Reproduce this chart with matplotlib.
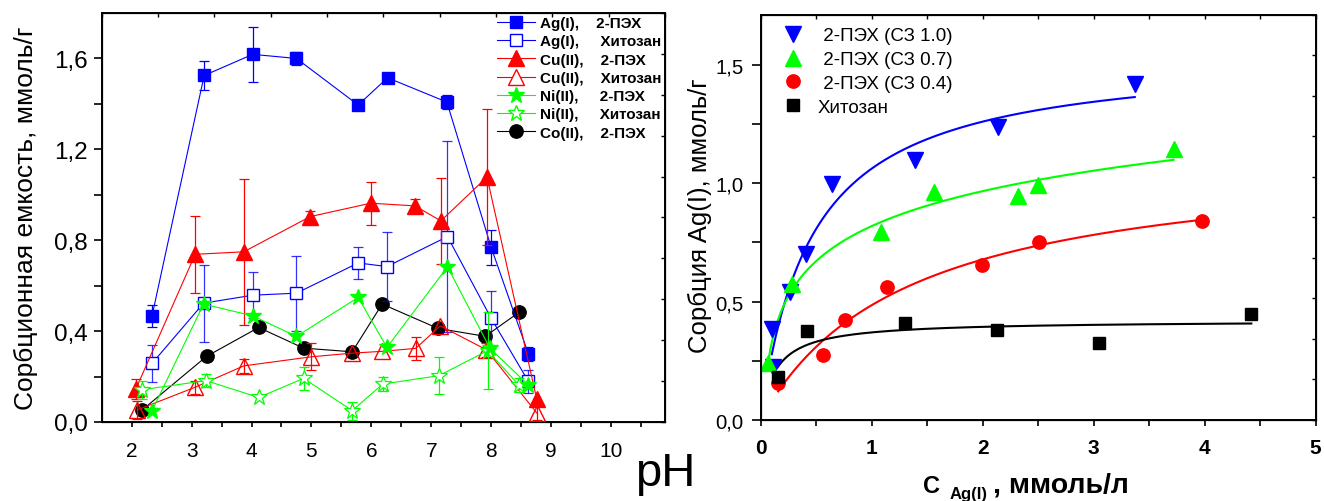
import numpy as np
import matplotlib
matplotlib.use("Agg")
import matplotlib.pyplot as plt
from matplotlib.lines import Line2D

plt.rcParams['font.family'] = ['Liberation Sans', 'DejaVu Sans']

# --- сорбция ионов металлов от pH ---
ph_ag = [2.34, 3.21, 4.02, 4.75, 5.78, 6.27, 7.26, 8.00, 8.62]
q_ag = [0.467, 1.525, 1.618, 1.600, 1.395, 1.515, 1.408, 0.768, 0.300]
e_ag = [0.05, 0.065, 0.12, 0.03, np.nan, np.nan, 0.03, 0.075, 0.03]

ph_ag_ch = [2.34, 3.20, 4.02, 4.75, 5.78, 6.26, 7.27, 8.00, 8.62]
q_ag_ch = [0.258, 0.523, 0.558, 0.567, 0.700, 0.684, 0.816, 0.456, 0.179]
e_ag_ch = [0.08, 0.17, 0.10, 0.165, 0.07, 0.15, 0.42, 0.12, 0.05]

ph_cu = [2.07, 3.06, 3.87, 4.98, 5.99, 6.73, 7.16, 7.93, 8.76]
q_cu = [0.145, 0.738, 0.749, 0.904, 0.963, 0.951, 0.885, 1.078, 0.100]
e_cu = [0.045, 0.17, 0.32, 0.025, 0.095, 0.03, 0.19, 0.30, np.nan]

ph_cu_ch = [2.09, 3.05, 3.87, 5.00, 5.68, 6.18, 6.74, 7.15, 7.92, 8.76]
q_cu_ch = [0.053, 0.152, 0.247, 0.287, 0.303, 0.311, 0.324, 0.423, 0.318, 0.040]
e_cu_ch = [0.04, 0.03, 0.03, 0.06, np.nan, np.nan, 0.05, np.nan, 0.03, 0.03]

ph_ni = [2.34, 3.20, 4.02, 4.75, 5.78, 6.26, 7.27, 7.98, 8.62]
q_ni = [0.050, 0.519, 0.467, 0.377, 0.548, 0.328, 0.683, 0.324, 0.163]

ph_ni_ch = [2.17, 3.24, 4.12, 4.87, 5.68, 6.19, 7.13, 7.94, 8.46]
q_ni_ch = [0.142, 0.182, 0.108, 0.192, 0.050, 0.167, 0.204, 0.314, 0.163]
e_ni_ch = [0.04, 0.03, np.nan, 0.05, 0.04, 0.03, 0.08, 0.17, 0.03]

ph_co = [2.18, 3.25, 4.12, 4.87, 5.68, 6.18, 7.11, 7.90, 8.46]
q_co = [0.054, 0.289, 0.416, 0.325, 0.309, 0.519, 0.412, 0.377, 0.482]

# --- изотермы сорбции Ag(I) ---
c_10 = [0.11, 0.10, 0.265, 0.41, 0.645, 1.39, 2.14, 3.37]
a_10 = [0.225, 0.384, 0.539, 0.700, 0.997, 1.099, 1.237, 1.420]
c_07 = [0.068, 0.28, 1.08, 1.56, 2.32, 2.50, 3.72]
a_07 = [0.239, 0.574, 0.793, 0.962, 0.948, 0.994, 1.145]
c_04 = [0.158, 0.558, 0.76, 1.135, 1.99, 2.51, 3.98]
a_04 = [0.154, 0.274, 0.422, 0.560, 0.654, 0.750, 0.842]
c_ch = [0.153, 0.414, 1.30, 2.13, 3.05, 4.42]
a_ch = [0.179, 0.376, 0.408, 0.381, 0.324, 0.447]


def langmuir_fit(c, q):
    c, q = np.asarray(c), np.asarray(q)
    best = None
    for k in np.logspace(-2, 2, 3000):
        f = k * c / (1 + k * c)
        qm = f @ q / (f @ f)
        s = np.sum((q - qm * f) ** 2)
        if best is None or s < best[0]:
            best = (s, qm, k)
    qm, k = best[1], best[2]
    return lambda x: qm * k * x / (1 + k * x)


def log_fit(c, q):
    b, a = np.polyfit(np.log(c), q, 1)
    return lambda x: a + b * np.log(x)


W, H = 1324, 502
fig = plt.figure(figsize=(W / 100, H / 100), dpi=100)

# ================= левый график =================
ax = fig.add_axes([101.7 / W, 1 - 423 / H, (665 - 101.7) / W, (423 - 14) / H])

err_kw = dict(fmt='none', capsize=3.3, elinewidth=0.9, capthick=0.9)
lw = 0.8

ax.plot(ph_co, q_co, '-', color='black', lw=lw, marker='o', ms=9.6,
        mfc='black', mec='black', zorder=3)

ax.errorbar(ph_ag, q_ag, yerr=e_ag, ecolor='blue', zorder=4, **err_kw)
ax.plot(ph_ag, q_ag, '-', color='blue', lw=lw, marker='s', ms=8.2,
        mfc='blue', mec='blue', zorder=4)

ax.errorbar(ph_ag_ch, q_ag_ch, yerr=e_ag_ch, ecolor='blue', alpha=0.8, zorder=5, **err_kw)
ax.plot(ph_ag_ch, q_ag_ch, '-', color='blue', lw=lw, marker='s', ms=8.2,
        mfc='white', mec='blue', mew=1.0, zorder=5)

ax.errorbar(ph_cu, q_cu, yerr=e_cu, ecolor='red', zorder=6, **err_kw)
ax.plot(ph_cu, q_cu, '-', color='red', lw=lw, marker='^', ms=11,
        mfc='red', mec='red', zorder=6)

ax.errorbar(ph_cu_ch, q_cu_ch, yerr=e_cu_ch, ecolor='red', zorder=7, **err_kw)
ax.plot(ph_cu_ch, q_cu_ch, '-', color='red', lw=lw, marker='^', ms=11,
        mfc='none', mec='red', mew=1.0, zorder=7)

ax.errorbar(ph_ni_ch, q_ni_ch, yerr=e_ni_ch, ecolor='#00ff00', zorder=8, **err_kw)
ax.plot(ph_ni_ch, q_ni_ch, '-', color='#00ff00', lw=lw, marker='*', ms=12,
        mfc='white', mec='#00ff00', mew=0.9, zorder=8)

ax.plot(ph_ni, q_ni, '-', color='#00ff00', lw=lw, marker='*', ms=12,
        mfc='#00ff00', mec='#00ff00', zorder=9)

ax.set_xlim(1.5, 10.9)
ax.set_ylim(0, 1.8)
ax.set_xticks(range(2, 11))
ax.set_xticks(np.arange(2.5, 11, 1.0), minor=True)
ax.set_yticks([0, 0.4, 0.8, 1.2, 1.6])
ax.set_yticks([0.2, 0.6, 1.0, 1.4], minor=True)
ax.set_yticklabels(['0,0', '0,4', '0,8', '1,2', '1,6'])
ax.tick_params(axis='y', which='major', labelsize=17.5, length=5.8, width=1.2, pad=4)
ax.tick_params(axis='y', which='minor', length=5.8, width=1.2)
ax.tick_params(axis='x', which='major', labelsize=15, length=3.6, width=1.2, pad=10)
ax.tick_params(axis='x', which='minor', length=3.6, width=1.2)
for s in ax.spines.values():
    s.set_linewidth(1.4)
ax.set_ylabel('Сорбционная емкость, ммоль/г', fontsize=19)
ax.yaxis.set_label_coords(-0.113, 0.5)

# дополнительные деления сверху и справа
axt = ax.twiny()
axt.set_xlim(0, 10)
axt.set_xticks(range(11))
axt.tick_params(axis='x', direction='in', length=3, width=1.0, labeltop=False)
axr = ax.twinx()
axr.set_ylim(0, 10)
axr.set_yticks(range(11))
axr.tick_params(axis='y', direction='in', length=3, width=1.0, labelright=False)

fig.text(635 / W, 1 - 486 / H, 'pH', fontsize=34, va='baseline', ha='left')

legend_items = [
    ('blue', 's', 'blue', 8.2, 'Ag(I),    2-ПЭХ'),
    ('blue', 's', 'white', 8.2, 'Ag(I),     Хитозан'),
    ('red', '^', 'red', 11, 'Cu(II),    2-ПЭХ'),
    ('red', '^', 'white', 11, 'Cu(II),    Хитозан'),
    ('#00ff00', '*', '#00ff00', 12, 'Ni(II),     2-ПЭХ'),
    ('#00ff00', '*', 'white', 12, 'Ni(II),     Хитозан'),
    ('black', 'o', 'black', 9.6, 'Co(II),    2-ПЭХ'),
]
handles = [Line2D([], [], color=c, lw=lw, marker=m, mfc=f, mec=c, ms=ms, label=t)
           for c, m, f, ms, t in legend_items]
axr.legend(handles=handles, loc='upper right', bbox_to_anchor=(1.0, 1.0),
           frameon=False, prop={'weight': 'bold', 'size': 11}, handlelength=2.5,
           handletextpad=0.35, labelspacing=0.28, borderaxespad=0.1, borderpad=0.1)

# ================= правый график =================
bx = fig.add_axes([760.7 / W, 1 - 420.7 / H, (1315.7 - 760.7) / W, (420.7 - 16) / H])

series = [
    (c_10, a_10, 'blue', 'v', 11, ' 2-ПЭХ (СЗ 1.0)', langmuir_fit),
    (c_07, a_07, '#00ff00', '^', 11, ' 2-ПЭХ (СЗ 0.7)', log_fit),
    (c_04, a_04, 'red', 'o', 9.6, ' 2-ПЭХ (СЗ 0.4)', langmuir_fit),
    (c_ch, a_ch, 'black', 's', 8, 'Хитозан', langmuir_fit),
]
for c, a, col, m, ms, lab, fit in series:
    model = fit(c, a)
    xs = np.linspace(min(c), max(c), 200)
    bx.plot(xs, model(xs), '-', color=col, lw=1.5, zorder=2)
    bx.plot(c, a, ls='none', marker=m, ms=ms, color=col, mec=col, label=lab, zorder=3)

bx.set_xlim(0, 5)
bx.set_ylim(0, 1.712)
bx.set_xticks(range(6))
bx.set_xticks(np.arange(0.5, 5, 1.0), minor=True)
bx.set_yticks([0, 0.5, 1.0, 1.5])
bx.set_yticks([0.25, 0.75, 1.25], minor=True)
bx.set_yticklabels(['0,0', '0,5', '1,0', '1,5'])
bx.tick_params(axis='y', which='major', labelsize=14.7, length=6.5, width=1.2, pad=6)
bx.tick_params(axis='y', which='minor', length=6.5, width=1.2)
bx.tick_params(axis='x', which='major', labelsize=15, length=4, width=1.2, pad=9.5)
bx.tick_params(axis='x', which='minor', length=4, width=1.2)
for t in bx.get_xticklabels():
    t.set_fontweight('bold')
for s in bx.spines.values():
    s.set_linewidth(1.4)
bx.set_ylabel('Сорбция Ag(I), ммоль/г', fontsize=18.5)
bx.yaxis.set_label_coords(-0.088, 0.507)

bxt = bx.twiny()
bxt.set_xlim(0, 10)
bxt.set_xticks(range(11))
bxt.tick_params(axis='x', direction='in', length=3, width=1.0, labeltop=False)
bxr = bx.twinx()
bxr.set_ylim(0, 10)
bxr.set_yticks(range(11))
bxr.tick_params(axis='y', direction='in', length=3, width=1.0, labelright=False)

bx.legend(loc='upper left', bbox_to_anchor=(0.027, 0.988), frameon=False,
          fontsize=13.5, handlelength=1.0, handletextpad=0.85, labelspacing=0.35,
          borderaxespad=0.0, borderpad=0.4)

# подпись оси C_Ag(I)
fig.text(923 / W, 1 - 493 / H, 'C', fontsize=17, fontweight='bold', va='baseline')
fig.text(950 / W, 1 - 487 / H, 'Ag(I)', fontsize=12, fontweight='bold', va='top')
fig.text(993 / W, 1 - 493 / H, ', ммоль/л', fontsize=20.5, fontweight='bold', va='baseline')

fig.savefig('out.png', dpi=100)
